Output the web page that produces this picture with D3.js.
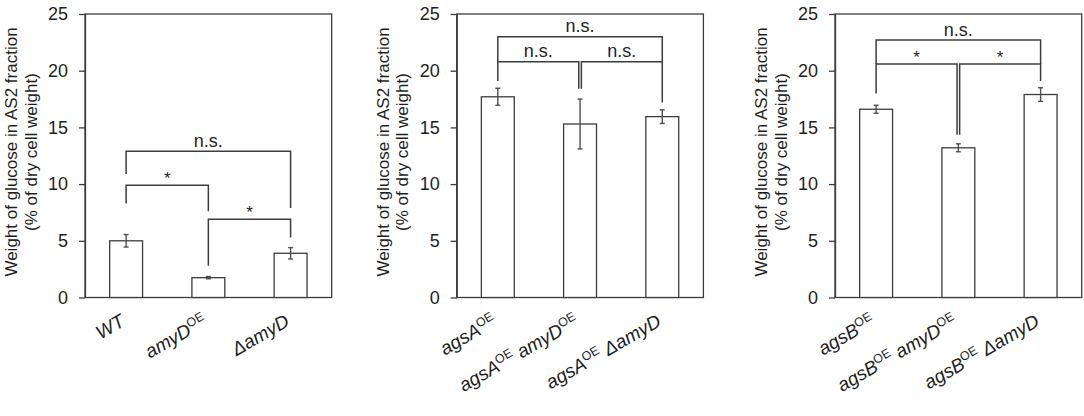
<!DOCTYPE html>
<html><head><meta charset="utf-8">
<script src="https://cdn.jsdelivr.net/npm/d3@7"></script>
<style>
html,body{margin:0;padding:0;background:#fff;}
svg{display:block;font-family:"Liberation Sans",Arial,sans-serif;}
</style></head>
<body>
<svg id="chart" width="1084" height="416"></svg>
<script>
// ---------- data ----------
const yTicks = [0, 5, 10, 15, 20, 25];
const yLabelLines = ["Weight of glucose in AS2 fraction", "(% of dry cell weight)"];

// category labels: segments [text, isSuperscript]
const cats1 = [[["WT", 0]], [["amyD", 0], ["OE", 1]], [["\u0394amyD", 0]]];
const vals1 = [5.0, 1.75, 3.9];
const errs1 = [0.55, 0.1, 0.5];
const brackets1 = [
  {from: 0, to: 2, y: 12.9, left: 10.9, right: 7.9, label: "n.s."},
  {from: 0, to: 1, y: 9.9, left: 8.3, right: 7.6, label: "*"},
  {from: 1, to: 2, y: 6.9, left: 2.8, right: 5.3, label: "*"}
];

const cats2 = [[["agsA", 0], ["OE", 1]], [["agsA", 0], ["OE", 1], [" amyD", 0], ["OE", 1]], [["agsA", 0], ["OE", 1], [" \u0394amyD", 0]]];
const vals2 = [17.7, 15.3, 15.95];
const errs2 = [0.75, 2.2, 0.6];
const brackets2 = [
  {from: 0, to: 2, y: 23.0, left: 20.8, right: 20.8, label: "n.s."},
  {from: 0, to: 1, y: 20.8, left: 19.1, right: 18.4, label: "n.s."},
  {from: 1, to: 2, y: 20.8, left: 18.4, right: 17.2, label: "n.s."}
];

const cats3 = [[["agsB", 0], ["OE", 1]], [["agsB", 0], ["OE", 1], [" amyD", 0], ["OE", 1]], [["agsB", 0], ["OE", 1], [" \u0394amyD", 0]]];
const vals3 = [16.6, 13.2, 17.9];
const errs3 = [0.35, 0.35, 0.6];
const brackets3 = [
  {from: 0, to: 2, y: 22.7, left: 20.6, right: 20.6, label: "n.s."},
  {from: 0, to: 1, y: 20.6, left: 18.0, right: 14.35, label: "*"},
  {from: 1, to: 2, y: 20.6, left: 14.35, right: 19.1, label: "*"}
];

// ---------- drawing ----------
const svg = d3.select("#chart");
const lineCol = "#3c3c3c";
const textCol = "#1e1e1e";
const plotTop = 14, plotBottom = 297.5, plotW = 246.7;
const panelX = [85, 456.7, 835];
const panels = [
  {cats: cats1, vals: vals1, errs: errs1, brackets: brackets1},
  {cats: cats2, vals: vals2, errs: errs2, brackets: brackets2},
  {cats: cats3, vals: vals3, errs: errs3, brackets: brackets3}
];

panels.forEach((p, pi) => {
  const x0 = panelX[pi];
  const g = svg.append("g").attr("transform", `translate(${x0},0)`);
  const idx = p.cats.map((c, i) => i);
  const x = d3.scaleBand().domain(idx).range([0, plotW]).paddingInner(0.6).paddingOuter(0.3);
  const y = d3.scaleLinear().domain([0, 25]).range([plotBottom, plotTop]);
  const cx = i => x(i) + x.bandwidth() / 2;

  // frame
  g.append("rect").attr("x", 0).attr("y", y(25)).attr("width", plotW).attr("height", y(0) - y(25))
    .attr("fill", "none").attr("stroke", lineCol).attr("stroke-width", 1.3);

  // y axis
  const ax = g.append("g").call(d3.axisLeft(y).tickValues(yTicks).tickSize(6).tickSizeOuter(0).tickPadding(11));
  ax.select(".domain").attr("stroke", lineCol).attr("stroke-width", 1.3);
  ax.selectAll(".tick line").attr("stroke", lineCol).attr("stroke-width", 1.3);
  ax.selectAll(".tick text").attr("font-size", 18).attr("fill", textCol)
    .attr("font-family", "Liberation Sans, Arial, sans-serif");

  // y label
  const yl = g.append("text").attr("transform", `translate(${-67.7},${152}) rotate(-90)`)
    .attr("text-anchor", "middle").attr("font-size", 17).attr("fill", textCol);
  yLabelLines.forEach((l, li) => {
    yl.append("tspan").attr("x", 0).attr("y", li * 19.3).text(l);
  });

  // bars
  g.selectAll("rect.bar").data(p.vals).join("rect").attr("class", "bar")
    .attr("x", (d, i) => x(i)).attr("width", x.bandwidth())
    .attr("y", d => y(d)).attr("height", d => y(0) - y(d))
    .attr("fill", "#fff").attr("stroke", lineCol).attr("stroke-width", 1.3);

  // error bars
  const eb = g.selectAll("g.err").data(p.vals).join("g").attr("class", "err");
  const errCol = "#505050";
  eb.append("line").attr("x1", (d, i) => cx(i)).attr("x2", (d, i) => cx(i))
    .attr("y1", (d, i) => y(d - p.errs[i])).attr("y2", (d, i) => y(d + p.errs[i]))
    .attr("stroke", errCol).attr("stroke-width", 1.4);
  [-1, 1].forEach(s => {
    eb.append("line").attr("x1", (d, i) => cx(i) - 2.5).attr("x2", (d, i) => cx(i) + 2.5)
      .attr("y1", (d, i) => y(d + s * p.errs[i])).attr("y2", (d, i) => y(d + s * p.errs[i]))
      .attr("stroke", errCol).attr("stroke-width", 1.4);
  });

  // brackets
  p.brackets.forEach(b => {
    const shared = k => p.brackets.some(o => o !== b && o.y === b.y && (o.from === k || o.to === k));
    let xl = cx(b.from), xr = cx(b.to);
    if (shared(b.from)) xl += 1.3;
    if (shared(b.to)) xr -= 1.3;
    const path = d3.path();
    path.moveTo(xl, y(b.left)); path.lineTo(xl, y(b.y)); path.lineTo(xr, y(b.y)); path.lineTo(xr, y(b.right));
    g.append("path").attr("d", path.toString()).attr("fill", "none")
      .attr("stroke", lineCol).attr("stroke-width", 1.5);
    const isStar = b.label === "*";
    g.append("text").attr("x", (xl + xr) / 2).attr("y", y(b.y) - (isStar ? 1 : 4.5))
      .attr("text-anchor", "middle").attr("font-size", isStar ? 17 : 18).attr("fill", textCol)
      .text(b.label);
  });

  // category labels
  p.cats.forEach((segs, i) => {
    const lg = g.append("g").attr("transform", `translate(${cx(i)},${plotBottom + 27.5})`);
    const t = lg.append("text").attr("transform", "rotate(-30)")
      .attr("text-anchor", "end").attr("font-size", 19).attr("fill", textCol);
    let raised = false;
    segs.forEach(([s, sup]) => {
      const ts = t.append("tspan").text(s);
      if (sup) {
        ts.attr("font-size", 12.5).attr("dy", raised ? 0 : -7);
        raised = true;
      } else {
        ts.attr("font-style", "italic").attr("dy", raised ? 7 : 0);
        raised = false;
      }
    });
  });
});
</script>
</body></html>
